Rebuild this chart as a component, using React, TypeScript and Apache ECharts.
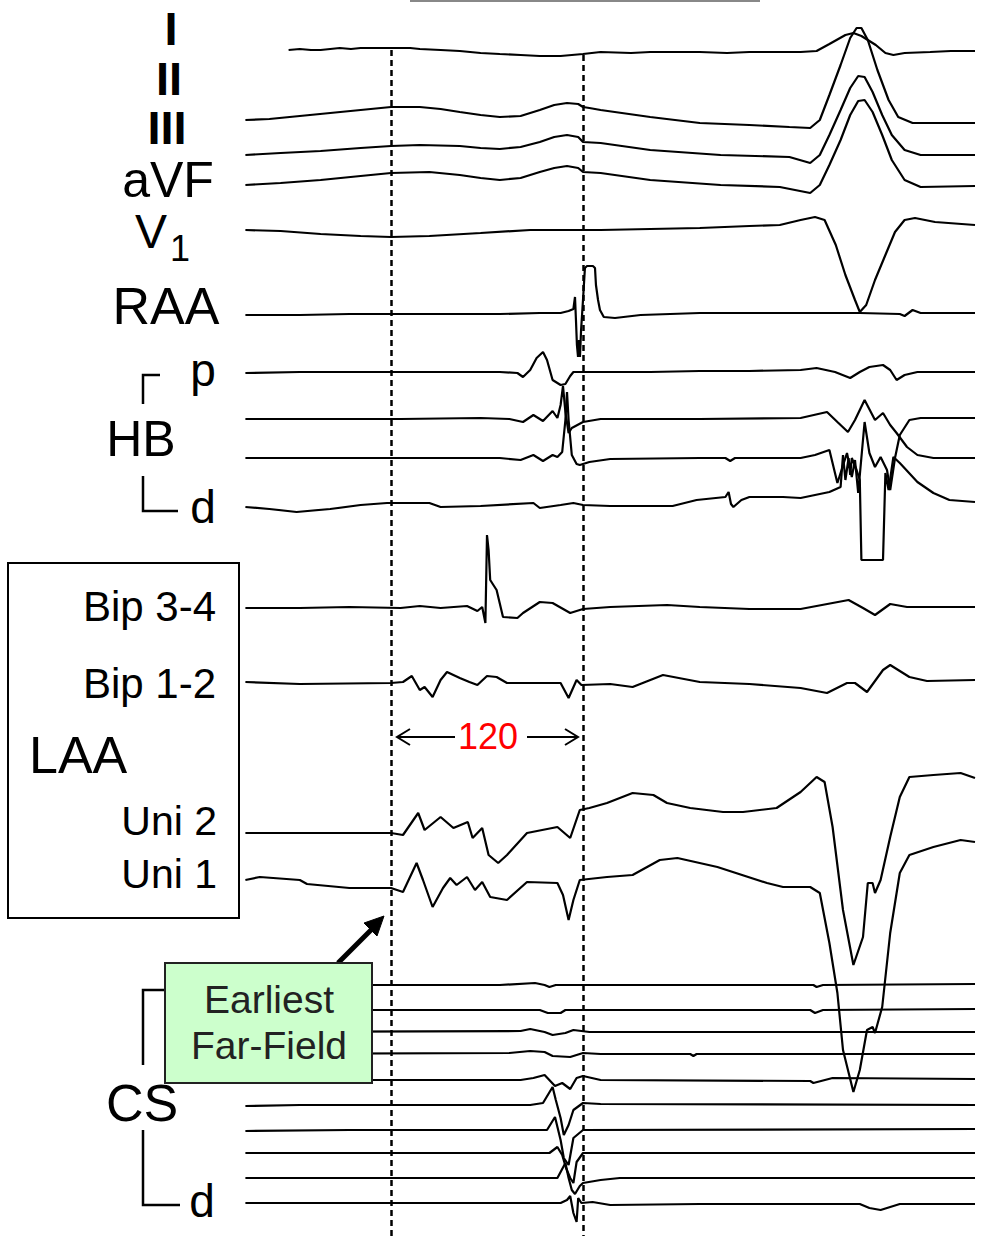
import React, { useEffect, useRef } from "react";
import * as echarts from "echarts";

// ---------- axis / scale ----------
// time in ms, 0 = first dashed reference line, 120 = second
const timeMin = -91.25;
const timeMax = 365;
const markerTimes = [0, 120];
const intervalLabel = "120";

// ---------- channel names & baselines (lane, px-units from top) ----------
const channelNames = [
  "I", "II", "III", "aVF", "V1", "RAA",
  "HB p", "HB 2", "HB 3", "HB d",
  "Bip 3-4", "Bip 1-2", "Uni 2", "Uni 1",
  "CS 1", "CS 2", "CS 3", "CS 4", "CS 5", "CS 6", "CS 7", "CS 8", "CS 9", "CS d",
];
const lanes = [52, 123, 155, 186, 228, 314, 372, 418, 458, 505, 608, 683, 833, 880, 985, 1010, 1032, 1054, 1080, 1105, 1130, 1153, 1178, 1203];

// ---------- traces: [time ms, amplitude (up = positive)] ----------
const leadI = [[-64,2],[-57,3],[-50,2],[-44,2],[-38,3],[-32,4],[-25,3],[-19,4],[-7,4],[0,4],[12,4],[18,3],[31,2],[43,1],[56,-1],[68,-2],[81,-3],[93,-4],[106,-4],[120,-2],[131,0],[150,-1],[162,0],[180,0],[193,0],[210,-1],[224,0],[240,0],[256,0],[266,1],[274,8],[284,17],[289,19],[294,16],[303,7],[309,-1],[314,-3],[321,-1],[337,0],[350,1],[365,1]];
const leadII = [[-91,3],[-76,4],[-57,7],[-38,10],[-19,13],[0,16],[18,16],[31,14],[43,11],[56,8],[68,6],[81,7],[93,13],[102,18],[110,20],[117,19],[120,16],[124,15],[131,13],[162,6],[193,0],[224,-2],[249,-4],[262,-5],[268,3],[274,28],[281,58],[287,85],[291,95],[294,95],[298,83],[304,53],[311,23],[317,6],[326,0],[343,0],[365,0]];
const leadIII = [[-91,0],[-69,2],[-44,4],[-19,7],[0,9],[18,10],[43,9],[56,7],[68,6],[81,8],[93,13],[102,18],[110,20],[117,18],[120,13],[131,12],[162,5],[206,0],[249,-2],[262,-8],[268,0],[274,20],[281,45],[287,67],[292,79],[296,78],[301,63],[307,40],[313,20],[321,5],[331,0],[365,0]];
const leadAVF = [[-91,1],[-69,3],[-44,6],[-19,10],[0,13],[24,14],[43,11],[56,8],[68,6],[81,8],[93,14],[102,18],[110,20],[117,18],[120,14],[131,13],[162,6],[206,1],[243,-1],[262,-7],[268,1],[274,21],[281,46],[287,71],[292,85],[296,86],[301,74],[307,51],[313,26],[321,6],[331,-1],[365,0]];
const leadV1 = [[-91,-2],[-69,-3],[-44,-6],[-19,-8],[0,-9],[24,-8],[56,-5],[87,-2],[120,-2],[131,-2],[162,-1],[193,0],[224,2],[243,3],[256,8],[265,11],[271,8],[278,-17],[284,-47],[290,-72],[293,-84],[297,-77],[302.5,-52],[309,-27],[315,-4],[321,8],[327.5,10],[340,6],[365,3]];
const raa = [[-91,-1],[-57,-1],[-26,0],[6,0],[37,0],[68,0],[93,1],[106,1],[111,3],[114,5],[115,17],[115.6,-6],[116.2,-31],[116.9,-43],[117.5,-26],[118.1,-43],[118.8,-16],[120,14],[121.2,46],[122.5,48],[126.2,48],[127.5,46],[128.1,29],[129.4,14],[130.6,4],[133,-3],[140,-4],[156,-1],[193,1],[256,1],[293,1],[318,0],[321,-2],[326,4],[331,1],[365,1]];
const hbP = [[-91,-1],[-57,0],[6,0],[68,0],[79,-1],[82.5,-5],[87,2],[91,14],[95,20],[97.5,12],[101,-8],[106,-13],[109,-12],[112,-4],[114,0],[124,0],[162,0],[193,1],[224,1],[256,2],[266,4],[277.5,0],[287,-6],[293,0],[299,5],[307.5,7],[312,2],[316,-8],[321,-3],[329,0],[365,0]];
const hb2 = [[-91,-1],[-57,-1],[6,-1],[56,0],[74,-1],[82.5,-4],[89,3],[95,-3],[101,7],[104,0],[106,13],[107.5,32],[109,6],[111,-15],[113,-10],[120,-4],[131,-1],[193,-1],[256,0],[272.5,6],[279,-4],[285.6,-14],[290,-2],[296,18],[302.5,-2],[307.5,5],[312,-7],[316,-15],[322.5,-29],[329,-37],[339,-40],[365,-40]];
const hb3 = [[-91,0],[-57,0],[6,0],[68,0],[81,-2],[89,3],[95,-3],[101,3],[104,1],[107,6],[109,38],[110,66],[111,38],[113,3],[116,-6],[118,-7],[124,-4],[137,-1],[193,0],[209,0],[212,-3],[215,0],[256,0],[265,3],[274,8],[279,-25],[285,5],[288,-19],[290,-2],[292,-35],[296,36],[299,5],[302.5,-9],[306,1],[310,-12],[312,-32],[315,0],[318,23],[324,38],[331,40],[365,40]];
const hbD = [[-91,-2],[-76,-4],[-59,-7],[-38,-4],[-19,0],[-2.5,2],[24,2],[31,-2],[56,-1],[89,2],[93,-3],[106,0],[114,2],[120,0],[137,-1],[176,-1],[191,5],[209,8],[211,13],[212.5,1],[214,-2],[219,5],[224,8],[245,8],[256,7],[274,13],[281,18],[282.5,50],[284,25],[286,47],[287,30],[288,47],[291,35],[293,25],[294,-55],[307.5,-55],[309,32],[311,15],[314,48],[318,42],[329,23],[339,12],[349,5],[365,3]];
const bip34 = [[-91,0],[-57,0],[-26,1],[6,0],[18,2],[31,0],[47.5,2],[54,-3],[57,1],[59,-15],[60,73],[61,58],[62,28],[64,23],[66,18],[70,-9],[79,-10],[82.5,-5],[93,6],[101,5],[112,-5],[120,-1],[137,1],[172.5,3],[193,1],[224,-1],[256,-1],[276,5],[286,8],[295,0],[302.5,-7],[312,4],[322.5,1],[365,1]];
const bip12 = [[-91,1],[-57,-1],[0,0],[7.5,1],[13,7],[18,-7],[21,-4],[26,-14],[31,3],[35,11],[43,5],[49,1],[54,-2],[60,7],[66,6],[72.5,0],[93,0],[106,0],[111,-15],[116,3],[119,-2],[137,-1],[151,-4],[170,8],[193,1],[224,-1],[256,-5],[272.5,-10],[285,0],[290,0],[297.5,-9],[307.5,13],[312,18],[324,6],[335,2],[365,3]];
const uni2 = [[-91,0],[-57,0],[-26,0],[0,0],[7.5,-2],[17,20],[21,3],[31,16],[39,5],[48,11],[51,-5],[57,5],[61,-22],[67,-30],[72.5,-22],[85,0],[104,6],[112,-5],[118,23],[124,25],[135,30],[151,40],[164,38],[172.5,30],[187,25],[207.5,21],[220,21],[241,25],[256,41],[266,56],[271,51],[276,6],[282.5,-77],[289,-132],[295,-104],[298,-50],[301,-50],[302.5,-60],[306,-47],[312,-4],[318,36],[324,56],[339,58],[356,60],[365,55]];
const uni1 = [[-91,0],[-82,3],[-57,0],[-52.5,-4],[-26,-8],[0,-8],[7.5,-12],[16,17],[20,0],[26,-27],[32.5,-8],[37,2],[41,-5],[47.5,3],[52.5,-10],[57,-2],[62,-17],[72.5,-20],[85,-2],[104,-3],[107.5,-15],[111,-40],[114,-20],[118,0],[135,3],[151,5],[168,20],[179,22],[204,13],[235,-3],[245,-7],[262,-7],[268,-13],[274,-63],[279,-113],[282.5,-170],[289,-212],[293,-190],[297.5,-150],[301,-147],[302.5,-153],[307,-127],[312,-53],[318,7],[324,25],[339,33],[356,40],[365,38]];
const cs1 = [[-91,0],[68,0],[90,2],[96,0],[99,-2],[103,0],[193,0],[264,0],[266,-2],[270,0],[365,1]];
const cs2 = [[-91,0],[93,0],[98,-3],[106,-3],[109,0],[193,0],[262,0],[265,-3],[270,0],[365,1]];
const cs3 = [[-91,0],[81,1],[87,3],[96,0],[101,-3],[109,-1],[114,2],[124,0],[365,0]];
const cs4 = [[-91,0],[74,1],[87,3],[96,2],[101,-2],[112,-3],[120,1],[131,0],[187,0],[189,-2],[191,0],[365,0]];
const cs5 = [[-91,0],[81,0],[89,2],[96,5],[102.5,-6],[107,-3],[112,-9],[116,2],[120,4],[131,0],[262,-1],[264,-3],[276,2],[365,1]];
const cs6 = [[-91,-1],[-57,0],[6,0],[87,0],[95,2],[98.75,12],[101,18],[103,5],[106,-13],[108,-30],[111,-20],[114,-5],[120,2],[131,1],[365,0]];
const cs7 = [[-91,-1],[-26,0],[37,0],[97.5,0],[102.5,13],[106,-10],[108,-28],[111,-35],[114,-8],[120,0],[365,1]];
const cs8 = [[-91,0],[99,0],[104,6],[107,-2],[109.4,-15],[112,-25],[114,-30],[116,-9],[120,0],[365,0]];
const cs9 = [[-91,0],[104,0],[109,15],[111,0],[113,-12],[115,-16],[118,-8],[120,-5],[131,-2],[143,0],[365,0]];
const cs10 = [[-91,0],[6,0],[106,0],[110,3],[112,7],[114,-10],[116,-19],[117,5],[119,0],[126,1],[137,-2],[193,-1],[293,-1],[299,-5],[306,-7],[312,-4],[318,-1],[365,-1]];

const traces = [leadI, leadII, leadIII, leadAVF, leadV1, raa, hbP, hb2, hb3, hbD, bip34, bip12, uni2, uni1, cs1, cs2, cs3, cs4, cs5, cs6, cs7, cs8, cs9, cs10];

const FONT = '"Liberation Sans", Arial, Helvetica, sans-serif';

function txt(text: string, x: number, y: number, size: number, opts: any = {}) {
  const align = opts.align || "center";
  return {
    type: "text",
    z: 100,
    style: {
      text,
      x,
      y,
      font: `${opts.weight || "normal"} ${size}px ${FONT}`,
      fill: opts.color || "#000",
      align,
      textAlign: align,
      verticalAlign: "middle",
      textVerticalAlign: "middle",
    },
  };
}

function pline(points: number[][], width = 2.5, color = "#000") {
  return {
    type: "polyline",
    z: 100,
    shape: { points },
    style: { stroke: color, lineWidth: width, fill: "none" },
  };
}

function buildOption() {
  const series: any[] = traces.map((tr, i) => ({
    name: channelNames[i],
    type: "line",
    data: tr.map(([t, a]) => [t, lanes[i] - a]),
    showSymbol: false,
    symbol: "none",
    silent: true,
    z: 2,
    lineStyle: { color: "#000", width: 2.2 },
  }));
  series[0].markLine = {
    silent: true,
    symbol: ["none", "none"],
    label: { show: false },
    lineStyle: { color: "#000", width: 2.5, type: [6, 4] },
    data: [
      [{ coord: [markerTimes[0], 50] }, { coord: [markerTimes[0], 1236] }],
      [{ coord: [markerTimes[1], 55] }, { coord: [markerTimes[1], 1236] }],
    ],
  };

  const graphic: any[] = [
    // top grey rule
    pline([[410, 1], [760, 1]], 2, "#888"),
    // ECG labels
    txt("I", 171, 28, 47, { weight: "bold" }),
    txt("II", 169, 78, 47, { weight: "bold" }),
    txt("III", 167, 127, 47, { weight: "bold" }),
    txt("aVF", 168, 180, 50),
    txt("V", 151, 231, 48),
    txt("1", 180, 248, 36),
    txt("RAA", 166, 306, 52),
    // HB group
    pline([[160, 375], [143, 375], [143, 404]]),
    txt("p", 203, 370, 46),
    txt("HB", 141, 439, 50),
    pline([[143, 476], [143, 511], [178, 511]]),
    txt("d", 203, 507, 46),
    // LAA box
    { type: "rect", z: 100, shape: { x: 8, y: 563, width: 231, height: 355 }, style: { stroke: "#000", lineWidth: 2, fill: "none" } },
    txt("Bip 3-4", 216, 606, 42, { align: "right" }),
    txt("Bip 1-2", 216, 683, 42, { align: "right" }),
    txt("LAA", 29, 755, 52, { align: "left" }),
    txt("Uni 2", 217, 821, 41, { align: "right" }),
    txt("Uni 1", 217, 874, 41, { align: "right" }),
    // 120 ms interval annotation
    txt(intervalLabel, 488, 736, 36, { color: "#ff0000" }),
    pline([[455, 737], [397, 737]], 2),
    pline([[410, 729], [397, 737], [410, 745]], 2),
    pline([[527, 737], [578, 737]], 2),
    pline([[565, 729], [578, 737], [565, 745]], 2),
    // CS group
    pline([[166, 990], [143, 990], [143, 1065]]),
    txt("CS", 142, 1103, 52),
    pline([[143, 1130], [143, 1205], [180, 1205]]),
    txt("d", 202, 1201, 46),
    // Earliest far-field callout
    { type: "rect", z: 101, shape: { x: 165, y: 963, width: 207, height: 120 }, style: { stroke: "#222", lineWidth: 2, fill: "#ccffcc" } },
    { ...txt("Earliest", 269, 999, 39, { color: "#222" }), z: 102 },
    { ...txt("Far-Field", 269, 1045, 39, { color: "#222" }), z: 102 },
    pline([[338, 963], [372, 929]], 5),
    { type: "polygon", z: 101, shape: { points: [[384, 916], [364, 923], [377, 936]] }, style: { fill: "#000", stroke: "#000", lineWidth: 1 } },
  ];

  return {
    animation: false,
    backgroundColor: "#fff",
    grid: { left: 245, right: 8, top: 0, bottom: 0, containLabel: false },
    xAxis: { type: "value", min: timeMin, max: timeMax, show: false },
    yAxis: { type: "value", min: 0, max: 1240, inverse: true, show: false },
    series,
    graphic,
  };
}

export default function App() {
  const ref = useRef<HTMLDivElement>(null);
  useEffect(() => {
    if (!ref.current) return;
    const chart = echarts.init(ref.current, null, { renderer: "svg" });
    chart.setOption(buildOption() as any);
    return () => chart.dispose();
  }, []);
  return (
    <div
      ref={ref}
      style={{ position: "absolute", left: 0, top: 0, width: 983, height: 1240, background: "#fff" }}
    />
  );
}
